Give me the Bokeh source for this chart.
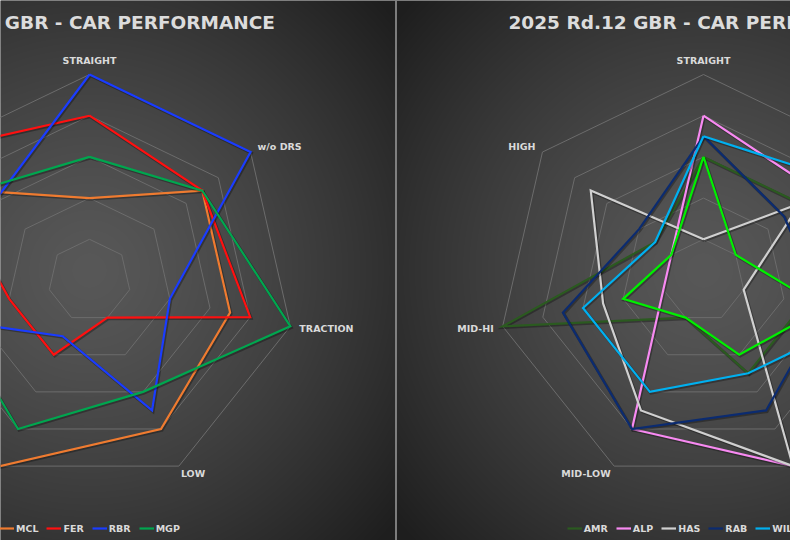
import numpy as np
from bokeh.plotting import figure
from bokeh.models import Range1d, Legend, LegendItem
from bokeh.core.properties import value
from bokeh.embed import file_html
from bokeh.resources import INLINE

# ---------------- data ----------------
axis_labels = ["STRAIGHT", "w/o DRS", "TRACTION", "LOW", "MID-LOW", "MID-HI", "HIGH"]
title_text = "2025 Rd.12 GBR - CAR PERFORMANCE"
ring_levels = [0.2, 0.4, 0.6, 0.8, 1.0]

left_teams = ["MCL", "FER", "RBR", "MGP"]
mcl = [0.4, 0.7, 0.7, 0.8, 1.0, 0.9, 0.7]
fer = [0.8, 0.7, 0.8, 0.2, 0.4, 0.4, 1.0]
rbr = [1.0, 1.0, 0.4, 0.7, 0.3, 0.8, 0.6]
mgp = [0.6, 0.7, 1.0, 0.6, 0.8, 0.7, 0.7]

right_teams = ["AMR", "ALP", "HAS", "RAB", "WIL", "SAU"]
amr = [0.6, 0.6, 0.5, 0.5, 0.2, 1.0, 0.3]
alp = [0.8, 0.7, 0.9, 1.0, 0.8, 0.2, 0.2]
has = [0.2, 0.6, 0.2, 1.0, 0.7, 0.5, 0.7]
rab = [0.7, 0.5, 0.6, 0.7, 0.8, 0.7, 0.4]
wil = [0.7, 0.8, 0.8, 0.5, 0.6, 0.6, 0.3]
sau = [0.6, 0.2, 0.6, 0.4, 0.2, 0.4, 0.2]

left_values = [mcl, fer, rbr, mgp]
right_values = [amr, alp, has, rab, wil, sau]

# ---------------- styles / layout ----------------
team_colors = {
    "MCL": "#ef7b30", "FER": "#ff1010", "RBR": "#1a3cff", "MGP": "#00a64f",
    "AMR": "#2b5a20", "ALP": "#f88af2", "HAS": "#d0d0d0", "RAB": "#0b2b70",
    "WIL": "#00b0f0", "SAU": "#00f000",
}
W, H = 790, 540
R = 206
CENTERS = [(89, 280), (703, 280)]  # pixel coords from top-left
DIVIDER_X = 395.5
FONT = value("DejaVu Sans")
TEXT_COLOR = "#dadada"

lab_dx = [0, 7, 9, 2, -3.5, -9, -7]
lab_dy = [-14, -6, 2, 7.5, 7.5, 2, -6]
lab_align = ["center", "left", "left", "left", "right", "right", "right"]

theta = np.pi / 2 - 2 * np.pi * np.arange(7) / 7


def ydata(y_px):
    return H - np.asarray(y_px, dtype=float)


def polygon(cx, cy_px, vals):
    v = np.append(np.asarray(vals, dtype=float), vals[0])
    th = np.append(theta, theta[0])
    return cx + R * v * np.cos(th), ydata(cy_px) + R * v * np.sin(th)


p = figure(width=W, height=H, x_range=Range1d(0, W), y_range=Range1d(0, H),
           output_backend="svg", toolbar_location=None, min_border=0)
p.axis.visible = False
p.grid.visible = False
p.outline_line_color = None
p.background_fill_color = "#3a3a3a"
p.border_fill_color = "#3a3a3a"

# background radial gradients (one per panel)
xs = np.arange(W) + 0.5
ys_px = (H - 0.5) - np.arange(H)
X, Y = np.meshgrid(xs, ys_px)
gcx = np.where(X < DIVIDER_X, CENTERS[0][0], CENTERS[1][0])
d = np.hypot(X - gcx, Y - 270)
shade = (88 - 58 * np.clip(d / 400.0, 0, 1) ** 1.3).astype(np.uint8)
img = np.zeros((H, W), dtype=np.uint32)
view = img.view(dtype=np.uint8).reshape((H, W, 4))
view[..., 0] = shade
view[..., 1] = shade
view[..., 2] = shade
view[..., 3] = 255
p.image_rgba(image=[img], x=0, y=0, dw=W, dh=H)

# divider
p.segment(x0=[DIVIDER_X], y0=[0], x1=[DIVIDER_X], y1=[H],
          line_color="#9c9c9c", line_width=1.5)

panels = [(CENTERS[0], left_teams, left_values, (-1, 6.3), 274.5, "right"),
          (CENTERS[1], right_teams, right_values, (566.7, 6.3), 508, "left")]

for (cx, cy), teams, vals_list, leg_loc, title_x, title_align in panels:
    # rings
    rx, ry = [], []
    for lv in ring_levels:
        x, y = polygon(cx, cy, [lv] * 7)
        rx.append(list(x)); ry.append(list(y))
    p.multi_line(xs=rx, ys=ry, line_color="#6c6c6c", line_width=1)

    # axis labels (only those that fall inside the picture)
    for align in ["center", "left", "right"]:
        lx, ly, lt = [], [], []
        for k in range(7):
            if lab_align[k] != align:
                continue
            x = cx + R * np.cos(theta[k]) + lab_dx[k]
            if (align == "left" and x > W) or (align == "right" and x < 0):
                continue
            lx.append(x)
            ly.append(float(ydata(cy - R * np.sin(theta[k]) + lab_dy[k])))
            lt.append(axis_labels[k])
        if lt:
            p.text(x=lx, y=ly, text=lt, text_align=align, text_baseline="middle",
                   text_font=FONT, text_font_style="bold",
                   text_font_size="9.5px", text_color=TEXT_COLOR)

    # team polygons
    items = []
    pos = leg_loc[0]
    for name, vals in zip(teams, vals_list):
        x, y = polygon(cx, cy, vals)
        p.line(x + 1.0, y - 1.2, line_color="black", line_alpha=0.3,
               line_width=3, line_join="miter")
        r = p.line(x, y, line_color=team_colors[name], line_width=2.2,
                   line_join="miter")
        if pos < W:
            items.append(LegendItem(label=name, renderers=[r]))
        pos += 25 + 7.0 * len(name) + 3

    leg = Legend(items=items, location=leg_loc, orientation="horizontal",
                 glyph_width=15, glyph_height=10, label_standoff=2, spacing=8,
                 padding=0, margin=0, label_width=10, label_height=10,
                 border_line_color=None, background_fill_alpha=0,
                 label_text_font="DejaVu Sans", label_text_font_style="bold",
                 label_text_font_size="9.5px", label_text_color=TEXT_COLOR)
    p.add_layout(leg)

    # title
    p.text(x=[title_x], y=[float(ydata(21.5))], text=[title_text],
           text_align=title_align, text_baseline="middle",
           text_font=FONT, text_font_style="bold",
           text_font_size="18.5px", text_color="#dcdcdc")

open("out.html", "w").write(file_html(p, INLINE))
